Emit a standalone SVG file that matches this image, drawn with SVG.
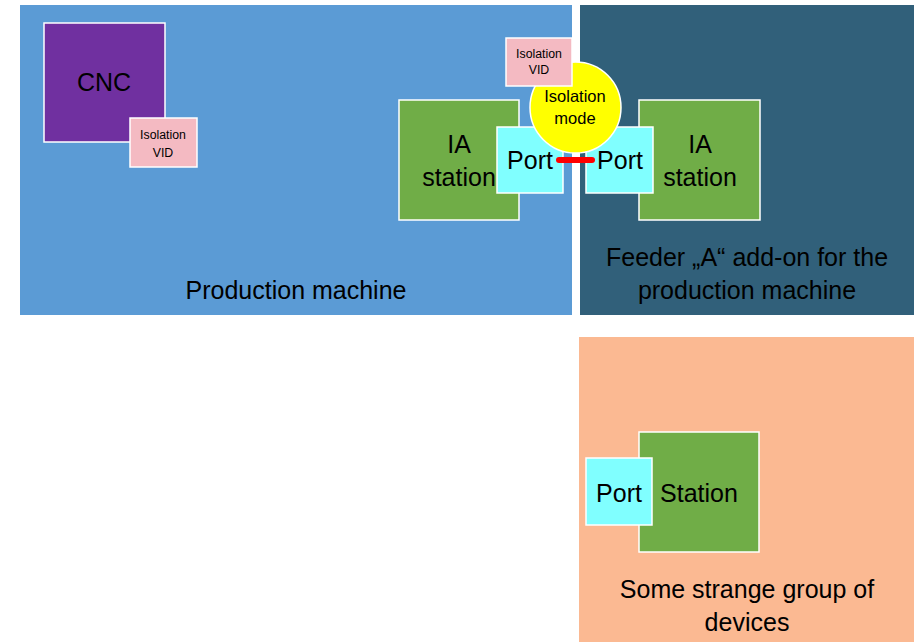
<svg xmlns="http://www.w3.org/2000/svg" width="922" height="642" viewBox="0 0 922 642">
  <style>
    text { font-family: "Liberation Sans", "DejaVu Sans", sans-serif; fill: #000; text-anchor: middle; }
    .big { font-size: 25px; }
    .small { font-size: 12.3px; }
    .circ { font-size: 16.5px; }
    .box { stroke: #ffffff; stroke-width: 1.5; }
    .station { fill: #70AD47; }
    .port { fill: #80FFFF; }
    .vid { fill: #F4BAC2; }
  </style>
  <rect width="922" height="642" fill="#ffffff"/>

  <!-- Groups (background areas) -->
  <g id="production-machine">
    <rect x="20" y="5" width="552" height="310" fill="#5B9BD5"/>
    <text class="big" x="296" y="299">Production machine</text>
  </g>
  <g id="feeder-a">
    <rect x="580" y="5" width="334" height="310" fill="#31607A"/>
    <text class="big" x="747" y="266">Feeder „A“ add-on for the</text>
    <text class="big" x="747" y="299">production machine</text>
  </g>
  <g id="strange-group">
    <rect x="579" y="337" width="335" height="305" fill="#FBB992"/>
    <text class="big" x="747" y="598">Some strange group of</text>
    <text class="big" x="747" y="631">devices</text>
  </g>

  <!-- CNC with its isolation VID -->
  <g id="cnc">
    <rect class="box" x="44" y="23" width="121" height="119" fill="#7030A0"/>
    <text class="big" x="104" y="91">CNC</text>
  </g>
  <g id="cnc-vid">
    <rect class="box vid" x="130" y="118" width="67" height="49"/>
    <text class="small" x="163" y="139">Isolation</text>
    <text class="small" x="163" y="157">VID</text>
  </g>

  <!-- Production machine IA station -->
  <g id="ia-station-left">
    <rect class="box station" x="399" y="100" width="120" height="120"/>
    <text class="big" x="459" y="153">IA</text>
    <text class="big" x="459" y="186">station</text>
  </g>
  <g id="port-left">
    <rect class="box port" x="497" y="127" width="66" height="66"/>
    <text class="big" x="530" y="169">Port</text>
  </g>

  <!-- Feeder IA station -->
  <g id="ia-station-right">
    <rect class="box station" x="639" y="100" width="121" height="120"/>
    <text class="big" x="700" y="153">IA</text>
    <text class="big" x="700" y="186">station</text>
  </g>
  <g id="port-right">
    <rect class="box port" x="586" y="127" width="67" height="66"/>
    <text class="big" x="620" y="169">Port</text>
  </g>

  <!-- Isolation mode with its VID on top -->
  <g id="isolation-mode">
    <circle class="box" cx="575.5" cy="107.5" r="45.5" fill="#FFFF00"/>
    <text class="circ" x="575" y="102">Isolation</text>
    <text class="circ" x="575" y="124">mode</text>
  </g>
  <g id="isolation-vid">
    <rect class="box vid" x="506" y="38" width="66" height="48"/>
    <text class="small" x="539" y="58">Isolation</text>
    <text class="small" x="539" y="74">VID</text>
  </g>

  <!-- Strange group station -->
  <g id="station">
    <rect class="box station" x="639" y="432" width="120" height="120"/>
    <text class="big" x="699" y="502">Station</text>
  </g>
  <g id="port-station">
    <rect class="box port" x="586" y="458" width="66" height="67"/>
    <text class="big" x="619" y="502">Port</text>
  </g>

  <!-- Connectors -->
  <g id="connectors">
    <line x1="559" y1="160" x2="592" y2="160" stroke="#FF0000" stroke-width="6" stroke-linecap="round"/>
  </g>
</svg>
